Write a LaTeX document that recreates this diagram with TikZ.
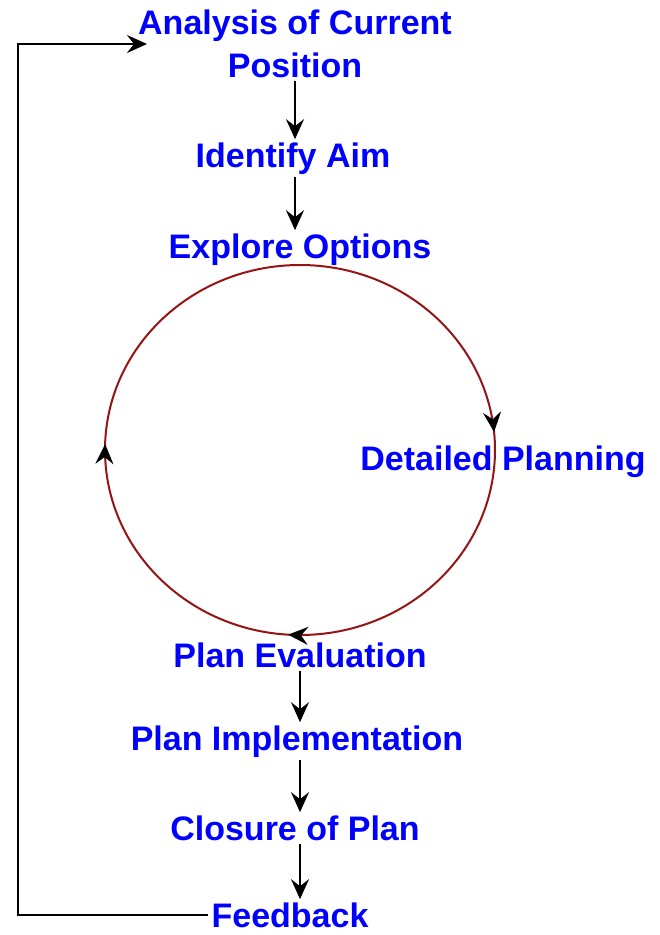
\documentclass[tikz,border=0pt]{standalone}
\usepackage{fontspec}
\setmainfont{Liberation Sans}
\usepackage{tikz}
\usetikzlibrary{arrows.meta, positioning, decorations.markings}
\usepackage{xcolor}
\definecolor{stepblue}{RGB}{0,0,255}
\definecolor{loopred}{RGB}{150,20,20}
\tikzset{stage/.style={text=stepblue,font=\bfseries\fontsize{34}{43}\selectfont,
                       align=center,inner sep=3pt},
         tip/.style={Stealth[length=20pt,width=18pt,inset=7pt]},
         flow/.style={draw=black,line width=2pt,-{Stealth[length=20pt,width=18pt,inset=7pt]}},
         loopback/.style={flow,line width=2.2pt},
         cyclearc/.style={draw=loopred,line width=2pt,postaction={decorate},
         decoration={markings,
           mark=at position 0.26 with {\arrow[black]{Stealth[length=20pt,width=18pt,inset=7pt]}},
           mark=at position 0.505 with {\arrow[black]{Stealth[length=20pt,width=18pt,inset=7pt]}},
           mark=at position 0.985 with {\arrow[black]{Stealth[length=20pt,width=18pt,inset=7pt]}}}}}

\begin{document}
\begin{tikzpicture}[x=1pt,y=-1pt]
\useasboundingbox (0,0) rectangle (660,935);
% the cycle
\coordinate (hub) at (300,450);
\draw[cyclearc] (hub) ellipse [x radius=195, y radius=185];
% stages
\node[stage] (analysis) at (295,44) {Analysis of Current\\Position};
\node[stage,anchor=base] (aim) at (293,167) {Identify Aim};
\node[stage,anchor=base] (options) at (300,258) {Explore Options};
\node[stage,anchor=base] (detailed) at (503,470) {Detailed Planning};
\node[stage,anchor=base] (evaluation) at (300,667) {Plan Evaluation};
\node[stage,anchor=base] (implementation) at (297,750) {Plan Implementation};
\node[stage,anchor=base] (closure) at (295,840) {Closure of Plan};
\node[stage,anchor=base] (feedback) at (290,927) {Feedback};
\coordinate (rail) at (18,500);
% arrows
\draw[flow] (analysis.south) -- (analysis.south |- aim.north);
\draw[flow] (analysis.south |- aim.south) -- (analysis.south |- options.north);
\draw[flow] (evaluation.south) -- (evaluation.south |- implementation.north);
\draw[flow] (evaluation.south |- implementation.south) -- (evaluation.south |- closure.north);
\draw[flow] (evaluation.south |- closure.south) -- (evaluation.south |- feedback.north);
\draw[loopback] (feedback.west) -| (rail) |- ([xshift=12pt]analysis.west);
\end{tikzpicture}
\end{document}
